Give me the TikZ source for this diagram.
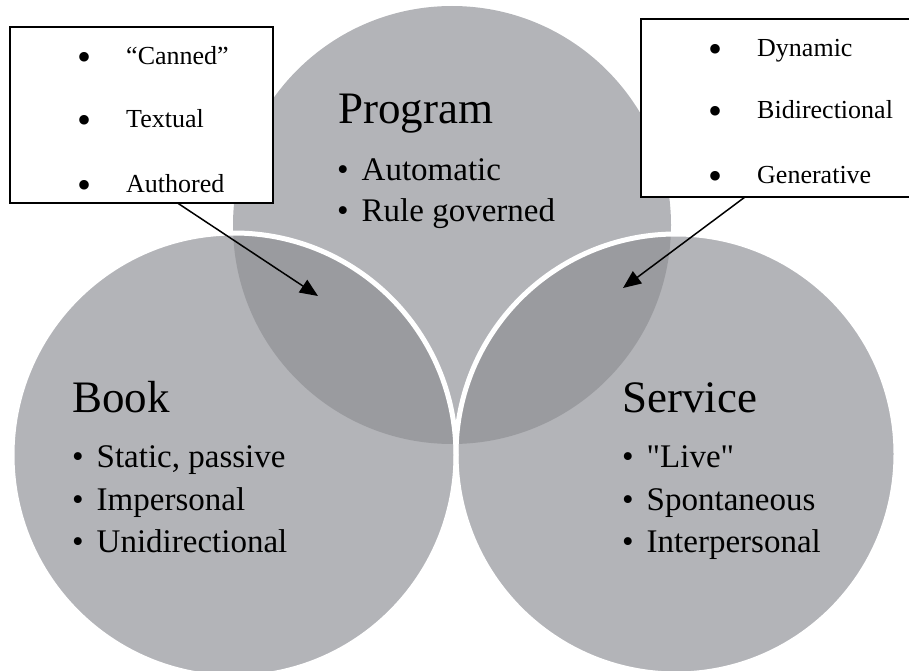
\documentclass[tikz,border=0pt]{standalone}
\usepackage{fontspec}
\setmainfont{Liberation Serif}
\usetikzlibrary{arrows.meta}
\definecolor{discgray}{HTML}{B3B4B8}
\definecolor{overlapgray}{HTML}{9A9B9F}
\newcommand\circbullet{\textbullet\hspace{13pt}}
\newcommand\boxbullet{\raisebox{-6pt}{\fontsize{40}{40}\selectfont\textbullet}\hspace{35pt}}
\tikzset{
  circletitle/.style={font=\fontsize{45}{54}\selectfont, inner sep=0pt, anchor=base west},
  circleitem/.style={font=\fontsize{33}{40}\selectfont, inner sep=0pt, anchor=base west},
  calloutitem/.style={font=\fontsize{26}{31}\selectfont, inner sep=0pt, anchor=base west},
  callout/.style={draw=black, fill=white, line width=1.6pt, anchor=north west, inner sep=0pt, outer sep=0pt},
  pointer/.style={line width=1.5pt, -{Triangle[length=18pt,width=15pt]}},
  rim/.style={draw=white, line width=5pt}
}

\begin{document}
\begin{tikzpicture}[x=1pt, y=-1pt]
		%%%%% START %%%%%
		\useasboundingbox (0, 0) rectangle (909, 671);
		
		\coordinate (prog) at (452, 225);
		\coordinate (book) at (234, 455);
		\coordinate (serv) at (676, 454);
		
		% three discs
		\fill[discgray] (prog) circle[radius=219pt];
		\fill[discgray] (book) circle[radius=222pt];
		\fill[discgray] (serv) circle[radius=220pt];
		
		\begin{scope}
			\clip (prog) circle[radius=219pt];
			\fill[overlapgray] (book) circle[radius=222pt];
			\fill[overlapgray] (serv) circle[radius=220pt];
		\end{scope}
		
		\draw[rim] (book) circle[radius=222pt];
		\draw[rim] (serv) circle[radius=220pt];
		
		% circle texts
		\node[circletitle] (progtitle) at (338, 124) {Program};
		\node[circleitem] (progauto) at (337, 180) {\circbullet Automatic};
		\node[circleitem] (progrule) at (337, 221) {\circbullet Rule governed};
		
		\node[circletitle] (booktitle) at (72, 412) {Book};
		\node[circleitem] (bookstatic) at (72, 467) {\circbullet Static, passive};
		\node[circleitem] (bookimpers) at (72, 510) {\circbullet Impersonal};
		\node[circleitem] (bookunidir) at (72, 552) {\circbullet Unidirectional};
		
		\node[circletitle] (servtitle) at (622, 412) {Service};
		\node[circleitem] (servlive) at (622, 467) {\circbullet \textquotedbl Live\textquotedbl};
		\node[circleitem] (servspont) at (622, 510) {\circbullet Spontaneous};
		\node[circleitem] (servinter) at (622, 552) {\circbullet Interpersonal};
		
		% pointers into the overlaps
		\coordinate (booktip) at (318, 296);
		\coordinate (servtip) at (623, 288);
		
		\node[callout, minimum width=263pt, minimum height=176pt] (bookbox) at (10, 27) {};
		\node[callout, minimum width=276pt, minimum height=178pt] (servbox) at (641, 19) {};
		
		\draw[pointer] ([xshift=36pt]bookbox.south) -- (booktip);
		\draw[pointer] ([xshift=-34pt]servbox.south) -- (servtip);
		
		% callout lists
		\node[calloutitem] (canned) at (77, 65) {\boxbullet “Canned”};
		\node[calloutitem] (textual) at (77, 128) {\boxbullet Textual};
		\node[calloutitem] (authored) at (77, 192) {\boxbullet Authored};
		
		\node[calloutitem] (dynamic) at (708, 57) {\boxbullet Dynamic};
		\node[calloutitem] (bidir) at (708, 119) {\boxbullet Bidirectional};
		\node[calloutitem] (generative) at (708, 183) {\boxbullet Generative};
		
		%%%%% END %%%%%
	\end{tikzpicture}
\end{document}
